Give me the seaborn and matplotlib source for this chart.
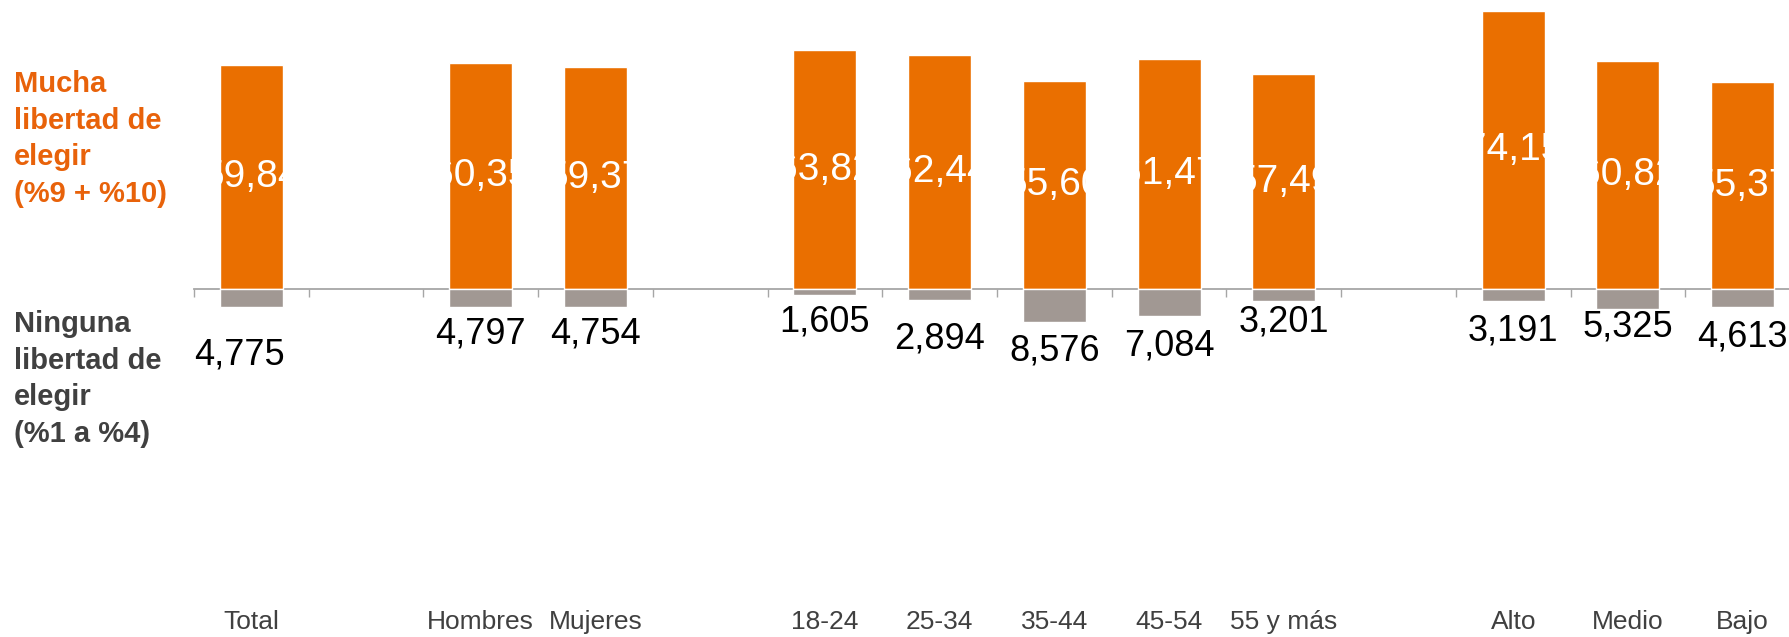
import seaborn as sns
import matplotlib.pyplot as plt
import pandas as pd
import numpy as np

sns.set_theme(style="white")
plt.rcParams['font.family'] = ['Liberation Sans', 'DejaVu Sans']

# datos
categories = ["Total", "Hombres", "Mujeres", "18-24", "25-34", "35-44",
              "45-54", "55 y más", "Alto", "Medio", "Bajo"]
mucha = [59.84, 60.35, 59.37, 63.82, 62.44, 55.60, 61.47, 57.49, 74.15, 60.82, 55.37]
ninguna = [4.775, 4.797, 4.754, 1.605, 2.894, 8.576, 7.084, 3.201, 3.191, 5.325, 4.613]

# orden con huecos entre grupos
order = ["Total", " ", "Hombres", "Mujeres", "  ", "18-24", "25-34", "35-44",
         "45-54", "55 y más", "   ", "Alto", "Medio", "Bajo"]

# posicion (en unidades del eje) de las etiquetas negras
neg_label_y = [-17.4, -11.8, -11.8, -8.8, -13.1, -16.4, -15.0, -8.8, -11.2, -10.1, -12.6]
neg_label_dx = [-0.1, 0, 0, 0, 0, 0, 0, 0, 0, 0, 0]

orange = "#EA6F00"
grey_bar = "#A19893"
axis_grey = "#A6A6A6"

df = pd.DataFrame({"cat": categories, "mucha": mucha,
                   "ninguna": [-v for v in ninguna]})

fig = plt.figure(figsize=(17.89, 6.37), dpi=100)
ax = fig.add_axes([194 / 1789, 0, 1606 / 1789, 1])

sns.barplot(data=df, x="cat", y="mucha", order=order, color=orange,
            width=0.55, saturation=1, ax=ax)
sns.barplot(data=df, x="cat", y="ninguna", order=order, color=grey_bar,
            width=0.55, saturation=1, ax=ax)

ax.set_ylim(-92.7, 77.2)
ax.set_xlim(-0.5, len(order) - 0.5)

ax.bar_label(ax.containers[0], labels=[f"{v:.2f}".replace(".", ",") for v in mucha],
             label_type="center", color="white", fontsize=28)

for cat, v, ly, dx in zip(categories, ninguna, neg_label_y, neg_label_dx):
    ax.text(order.index(cat) + dx, ly, f"{v:.3f}".replace(".", ","),
            ha="center", va="center", color="black", fontsize=26)

for s in ["top", "right", "left"]:
    ax.spines[s].set_visible(False)
ax.spines["bottom"].set_position(("data", 0))
ax.spines["bottom"].set_color(axis_grey)
ax.spines["bottom"].set_linewidth(1.3)
ax.spines["bottom"].set_zorder(0.5)

ax.set_xticks(np.arange(-0.5, len(order)), minor=True)
ax.tick_params(axis="x", which="minor", direction="out", length=6,
               width=1, color=axis_grey, bottom=True)
ax.tick_params(axis="x", which="major", length=0, pad=231,
               labelsize=19, labelcolor="#404040")
ax.set_yticks([])
ax.set_xlabel("")
ax.set_ylabel("")

fig.text(14 / 1789, 1 - 139 / 637, "Mucha\nlibertad de\nelegir\n(%9 + %10)",
         ha="left", va="center", color="#E8620A", fontsize=21,
         fontweight="bold", linespacing=1.39)
fig.text(14 / 1789, 1 - 379 / 637, "Ninguna\nlibertad de\nelegir\n(%1 a %4)",
         ha="left", va="center", color="#404040", fontsize=21,
         fontweight="bold", linespacing=1.39)

fig.savefig("out.png", dpi=100)
